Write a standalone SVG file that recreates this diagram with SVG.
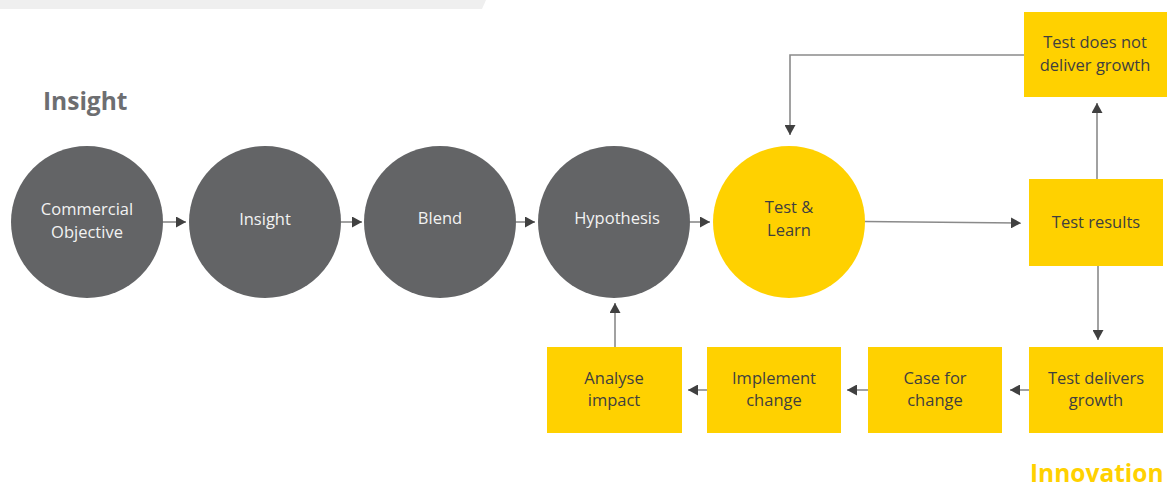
<svg xmlns="http://www.w3.org/2000/svg" width="1171" height="490" viewBox="0 0 1171 490">
  <style>
    .bg { fill: #ffffff; }
    .band { fill: #efefef; }
    .dark { fill: #636466; }
    .yel { fill: #ffd100; }
    .lbl { font-family: "Open Sans", "Noto Sans", sans-serif; font-size: 16.5px; text-anchor: middle; }
    .lbl-light { fill: #f2f2f2; }
    .lbl-dark { fill: #3f3f3f; }
    .head { font-family: "Open Sans", "Noto Sans", sans-serif; font-weight: bold; font-size: 24.5px; }
    .conn { fill: none; stroke: #8a8a8a; stroke-width: 1.6; marker-end: url(#arrow); }
  </style>
  <defs>
    <marker id="arrow" viewBox="0 0 10 11" refX="10" refY="5.5" markerWidth="10" markerHeight="11" markerUnits="userSpaceOnUse" orient="auto">
      <path d="M0,0 L10,5.5 L0,11 z" fill="#404040"/>
    </marker>
  </defs>

  <rect class="bg" x="0" y="0" width="1171" height="490"/>
  <!-- header band -->
  <polygon class="band" points="0,0 486,0 482,9 0,9"/>

  <!-- section headings -->
  <text class="head" x="43" y="110" fill="#6d6e71">Insight</text>
  <text class="head" x="1030" y="482" fill="#ffd100">Innovation</text>

  <!-- connectors -->
  <g id="connectors">
    <line class="conn" x1="163" y1="222" x2="186" y2="222"/>
    <line class="conn" x1="341" y1="222" x2="362" y2="222"/>
    <line class="conn" x1="516" y1="222" x2="535" y2="222"/>
    <line class="conn" x1="689" y1="222" x2="710" y2="222"/>
    <line class="conn" x1="864" y1="221.5" x2="1021" y2="223"/>
    <line class="conn" x1="1097" y1="179" x2="1097" y2="103"/>
    <polyline class="conn" points="1024,55 790,55 790,135"/>
    <line class="conn" x1="1098" y1="266" x2="1098" y2="340"/>
    <line class="conn" x1="1029" y1="390" x2="1010" y2="390"/>
    <line class="conn" x1="868" y1="390" x2="847" y2="390"/>
    <line class="conn" x1="707" y1="390" x2="688" y2="390"/>
    <line class="conn" x1="615" y1="347" x2="615" y2="303"/>
  </g>

  <!-- insight circles -->
  <g id="commercial-objective">
    <circle class="dark" cx="87" cy="222" r="76"/>
    <text class="lbl lbl-light" x="87" y="215">Commercial</text>
    <text class="lbl lbl-light" x="87" y="238">Objective</text>
  </g>
  <g id="insight">
    <circle class="dark" cx="265" cy="222" r="76"/>
    <text class="lbl lbl-light" x="265" y="225">Insight</text>
  </g>
  <g id="blend">
    <circle class="dark" cx="440" cy="222" r="76"/>
    <text class="lbl lbl-light" x="440" y="224">Blend</text>
  </g>
  <g id="hypothesis">
    <circle class="dark" cx="614" cy="222" r="76"/>
    <text class="lbl lbl-light" x="617" y="224">Hypothesis</text>
  </g>

  <!-- innovation loop -->
  <g id="test-learn">
    <circle class="yel" cx="789" cy="222" r="76"/>
    <text class="lbl lbl-dark" x="789" y="213">Test &amp;</text>
    <text class="lbl lbl-dark" x="789" y="236">Learn</text>
  </g>
  <g id="test-results">
    <rect class="yel" x="1029" y="179" width="134" height="87"/>
    <text class="lbl lbl-dark" x="1096" y="228">Test results</text>
  </g>
  <g id="test-does-not-deliver">
    <rect class="yel" x="1024" y="12" width="143" height="85"/>
    <text class="lbl lbl-dark" x="1095" y="48">Test does not</text>
    <text class="lbl lbl-dark" x="1095" y="71">deliver growth</text>
  </g>
  <g id="test-delivers-growth">
    <rect class="yel" x="1029" y="347" width="134" height="86"/>
    <text class="lbl lbl-dark" x="1096" y="384">Test delivers</text>
    <text class="lbl lbl-dark" x="1096" y="406">growth</text>
  </g>
  <g id="case-for-change">
    <rect class="yel" x="868" y="347" width="134" height="86"/>
    <text class="lbl lbl-dark" x="935" y="384">Case for</text>
    <text class="lbl lbl-dark" x="935" y="406">change</text>
  </g>
  <g id="implement-change">
    <rect class="yel" x="707" y="347" width="134" height="86"/>
    <text class="lbl lbl-dark" x="774" y="384">Implement</text>
    <text class="lbl lbl-dark" x="774" y="406">change</text>
  </g>
  <g id="analyse-impact">
    <rect class="yel" x="547" y="347" width="135" height="86"/>
    <text class="lbl lbl-dark" x="614" y="384">Analyse</text>
    <text class="lbl lbl-dark" x="614" y="406">impact</text>
  </g>
</svg>
